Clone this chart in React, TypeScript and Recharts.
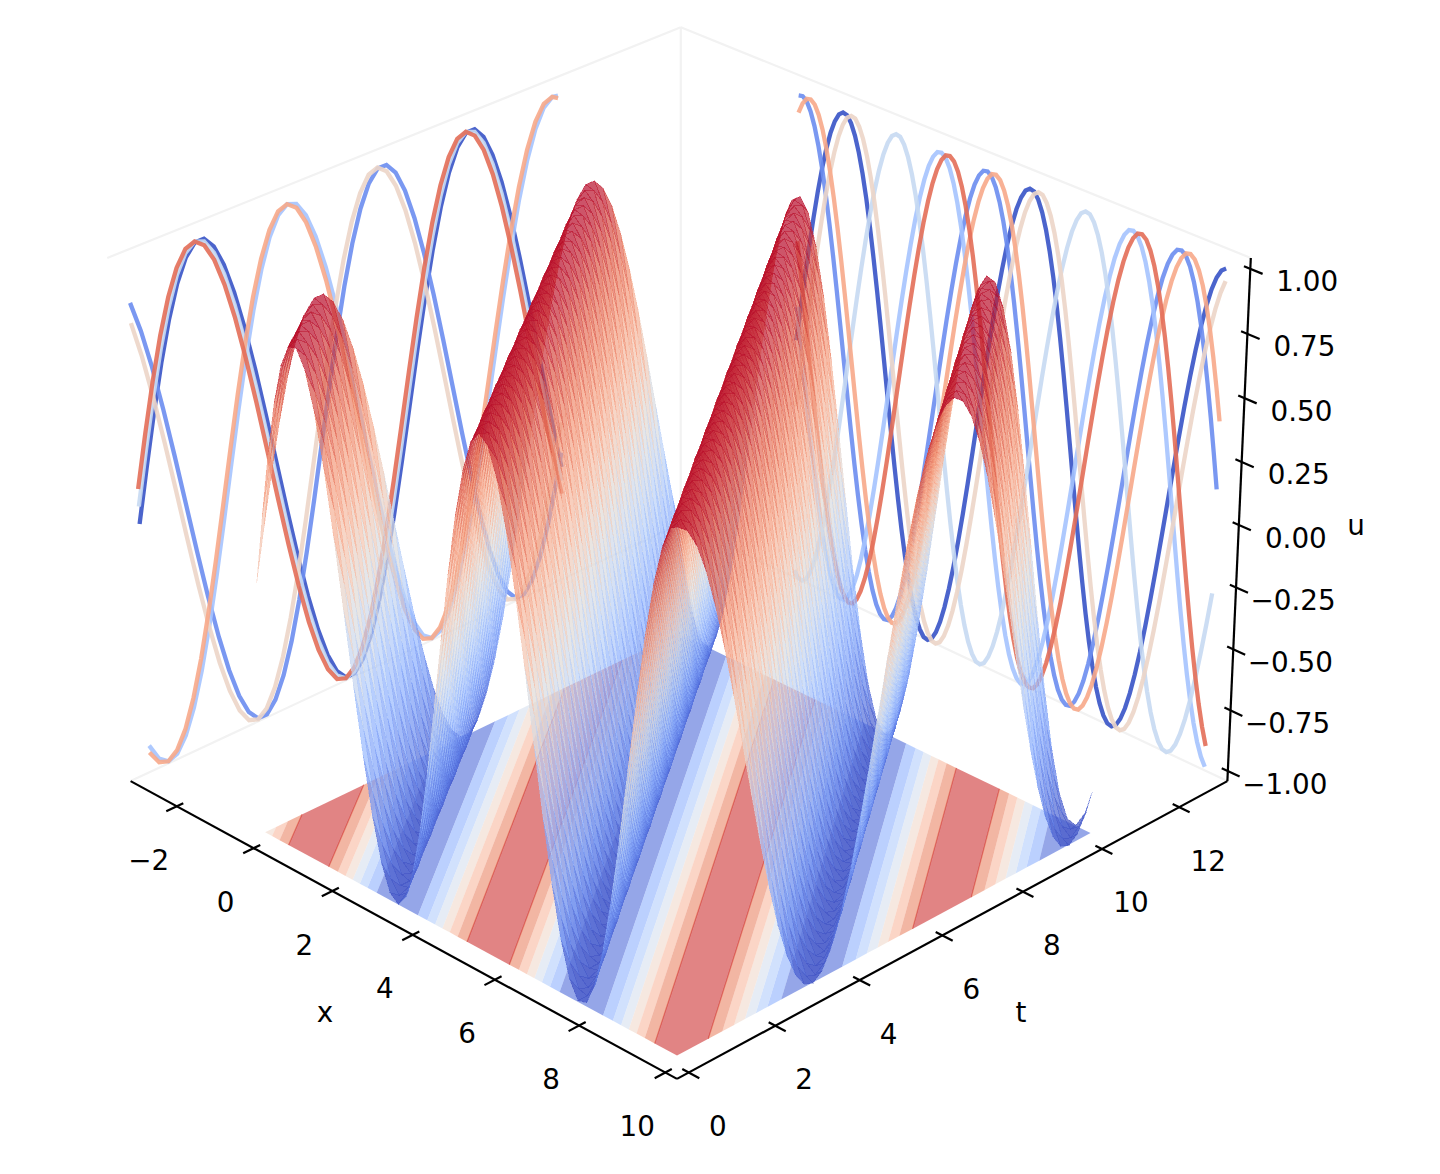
import { ComposedChart, Line, Scatter, XAxis, YAxis } from 'recharts';

const WIDTH = 1440;
const HEIGHT = 1174;

// one period of the wave, one sample every 1/90 period
const WAVE_PROFILE = [
  0, 0.07, 0.139, 0.208, 0.276, 0.342, 0.407, 0.469, 0.53, 0.588, 0.643, 0.695, 0.743, 0.788, 0.829,
  0.866, 0.899, 0.927, 0.951, 0.97, 0.985, 0.995, 0.999, 0.999, 0.995, 0.985, 0.97, 0.951, 0.927, 0.899,
  0.866, 0.829, 0.788, 0.743, 0.695, 0.643, 0.588, 0.53, 0.469, 0.407, 0.342, 0.276, 0.208, 0.139, 0.07,
  0, -0.07, -0.139, -0.208, -0.276, -0.342, -0.407, -0.469, -0.53, -0.588, -0.643, -0.695, -0.743, -0.788, -0.829,
  -0.866, -0.899, -0.927, -0.951, -0.97, -0.985, -0.995, -0.999, -0.999, -0.995, -0.985, -0.97, -0.951, -0.927, -0.899,
  -0.866, -0.829, -0.788, -0.743, -0.695, -0.643, -0.588, -0.53, -0.469, -0.407, -0.342, -0.276, -0.208, -0.139, -0.07,
];
const SAMPLES_PER_X = 20.26;
const SAMPLES_PER_T = 14.32;
// profile samples on the grid lines; the last stride is shorter so the grid stops at 10
const X_SAMPLES = Array.from({ length: 52 }, (_, i) => Math.min(4 * i, 203));
const T_SAMPLES = Array.from({ length: 49 }, (_, j) => Math.min(3 * j, 143));
const X_CURVE_SAMPLES = Array.from({ length: 102 }, (_, i) => 2 * i);

const CURVE_LEVELS = [0, 1.5, 3, 4.5, 6, 7.5, 9];
const CURVE_COLORS = ['#3753c7', '#6b8df0', '#a5c3fe', '#c7d9f2', '#ecd5c8', '#f7a889', '#e36e58'];

const X_TICKS = [-2, 0, 2, 4, 6, 8, 10];
const T_TICKS = [0, 2, 4, 6, 8, 10, 12];
const U_TICKS = [-1, -0.75, -0.5, -0.25, 0, 0.25, 0.5, 0.75, 1];
const U_TICK_LABELS = ['−1.00', '−0.75', '−0.50', '−0.25', '0.00', '0.25', '0.50', '0.75', '1.00'];

// phase limits of the floor bands on the rising side of the wave, then the band fills low to high
const BAND_EDGES = [-0.848, -0.524, -0.253, 0, 0.253, 0.524, 0.848];
const BAND_COLORS = ['#4e6ad8', '#8db0fe', '#b3cdfb', '#d5dfef', '#f0d8cc', '#f9b9a0', '#ea8566', '#cd3232'];

const COOLWARM = [
  [59, 76, 192], [98, 130, 234], [141, 176, 254], [184, 208, 249], [221, 221, 221],
  [245, 196, 173], [244, 154, 123], [222, 96, 77], [180, 4, 38],
];

const XLIM = [-3.22, 10.27];
const TLIM = [-0.27, 13.27];
const ULIM = [-1.0417, 1.0417];
const WALL_X = -3;
const WALL_T = 13;

function project(x: number, t: number, u: number) {
  const px = 0.5953 * ((2 * (x - XLIM[0])) / (XLIM[1] - XLIM[0]) - 1);
  const py = 0.5953 * ((2 * (t - TLIM[0])) / (TLIM[1] - TLIM[0]) - 1);
  const pz = 0.4453 * ((2 * (u - ULIM[0])) / (ULIM[1] - ULIM[0]) - 1);
  const depth = 10 - (0.6243 * (px - py) + 0.4695 * pz);
  return {
    sx: 679 + (6650 * (0.7071 * (px + py) - 0.0024 * (px - py))) / depth,
    sy: 525 - (6650 * (0.332 * (py - px) + 0.8829 * pz)) / depth,
    depth,
  };
}

function coolwarm(f: number) {
  const p = Math.min(Math.max(f, 0), 1) * (COOLWARM.length - 1);
  const i = Math.min(Math.floor(p), COOLWARM.length - 2);
  const c = COOLWARM[i].map((v, k) => Math.round(v + (COOLWARM[i + 1][k] - v) * (p - i)));
  return `rgb(${c.join(',')})`;
}

const waveAt = (sample: number) => WAVE_PROFILE[sample % WAVE_PROFILE.length];

// polygon anchored at its centre, so the chart's scales place it
function toCell(corners: { sx: number; sy: number; depth: number }[], fill: string) {
  const sx = corners.reduce((s, c) => s + c.sx, 0) / corners.length;
  const sy = corners.reduce((s, c) => s + c.sy, 0) / corners.length;
  const depth = corners.reduce((s, c) => s + c.depth, 0) / corners.length;
  return { sx, sy, depth, fill, offsets: corners.map((c) => [c.sx - sx, c.sy - sy]) };
}

const surfaceCells: ReturnType<typeof toCell>[] = [];
for (let j = 0; j < T_SAMPLES.length - 1; j++) {
  for (let i = 0; i < X_SAMPLES.length - 1; i++) {
    const quad = [
      [i, j],
      [i + 1, j],
      [i + 1, j + 1],
      [i, j + 1],
    ].map(([a, b]) => ({
      x: X_SAMPLES[a] / SAMPLES_PER_X,
      t: T_SAMPLES[b] / SAMPLES_PER_T,
      u: waveAt(X_SAMPLES[a] + T_SAMPLES[b]),
    }));
    const mean = quad.reduce((s, q) => s + q.u, 0) / 4;
    surfaceCells.push(toCell(quad.map((q) => project(q.x, q.t, q.u)), coolwarm((mean + 1) / 2)));
  }
}
surfaceCells.sort((p, q) => q.depth - p.depth);

// square cut by one limit of phase = 1.4142 x + t
const phaseOf = (p: number[]) => 1.4142 * p[0] + p[1];
function clip(poly: number[][], phase: number, keepAbove: boolean) {
  const out: number[][] = [];
  const side = (p: number[]) => (phaseOf(p) - phase) * (keepAbove ? 1 : -1);
  poly.forEach((p, i) => {
    const q = poly[(i + 1) % poly.length];
    const sp = side(p);
    const sq = side(q);
    if (sp >= 0) out.push(p);
    if (sp * sq < 0) {
      const f = sp / (sp - sq);
      out.push([p[0] + (q[0] - p[0]) * f, p[1] + (q[1] - p[1]) * f]);
    }
  });
  return out;
}

const SQUARE = [[0, 0], [10, 0], [10, 10], [0, 10]];
const floorCells: ReturnType<typeof toCell>[] = [];
const redBandEdges: ReturnType<typeof project>[][] = [];
const lastEdge = BAND_EDGES[BAND_EDGES.length - 1];
for (let n = 0; n < 5; n++) {
  const centre = n * 6.2832;
  const mirror = centre + 3.1416;
  const bands: [number, number, number][] = [
    [centre - 6.2832 + 3.1416 + lastEdge, centre - lastEdge, 0],
    [centre + lastEdge, mirror - lastEdge, 7],
  ];
  BAND_EDGES.slice(0, -1).forEach((edge, i) => {
    bands.push([centre + edge, centre + BAND_EDGES[i + 1], i + 1]);
    bands.push([mirror - BAND_EDGES[i + 1], mirror - edge, i + 1]);
  });
  bands.forEach(([lo, hi, colour]) => {
    const poly = clip(clip(SQUARE, lo, true), hi, false);
    if (poly.length < 3) return;
    floorCells.push(toCell(poly.map((p) => project(p[0], p[1], -1)), BAND_COLORS[colour]));
    if (colour === 7) {
      [lo, hi].forEach((limit) => {
        const onLimit = poly.filter((p) => Math.abs(phaseOf(p) - limit) < 1e-6);
        if (onLimit.length === 2) redBandEdges.push(onLimit.map((p) => project(p[0], p[1], -1)));
      });
    }
  });
}

const leftCurves = CURVE_LEVELS.map((level) =>
  T_SAMPLES.map((s) => project(WALL_X, s / SAMPLES_PER_T, waveAt(Math.round(level * SAMPLES_PER_X) + s))),
);
const rightCurves = CURVE_LEVELS.map((level) =>
  X_CURVE_SAMPLES.map((s) => project(s / SAMPLES_PER_X, WALL_T, waveAt(s + Math.round(level * SAMPLES_PER_T)))),
);

const paneEdges = [
  [project(XLIM[0], TLIM[0], ULIM[1]), project(XLIM[0], TLIM[1], ULIM[1])],
  [project(XLIM[0], TLIM[1], ULIM[1]), project(XLIM[1], TLIM[1], ULIM[1])],
  [project(XLIM[0], TLIM[1], ULIM[0]), project(XLIM[0], TLIM[1], ULIM[1])],
  [project(XLIM[0], TLIM[0], ULIM[0]), project(XLIM[0], TLIM[1], ULIM[0])],
  [project(XLIM[0], TLIM[1], ULIM[0]), project(XLIM[1], TLIM[1], ULIM[0])],
];
const axisEdges = [
  [project(XLIM[0], TLIM[0], ULIM[0]), project(XLIM[1], TLIM[0], ULIM[0])],
  [project(XLIM[1], TLIM[0], ULIM[0]), project(XLIM[1], TLIM[1], ULIM[0])],
  [project(XLIM[1], TLIM[1], ULIM[0]), project(XLIM[1], TLIM[1], ULIM[1])],
];
const tickEdges = [
  ...X_TICKS.map((x) => [project(x, TLIM[0] - 0.24, ULIM[0]), project(x, TLIM[0] + 0.15, ULIM[0])]),
  ...T_TICKS.map((t) => [project(XLIM[1] + 0.24, t, ULIM[0]), project(XLIM[1] - 0.15, t, ULIM[0])]),
  ...U_TICKS.map((u) => [project(XLIM[1] - 0.14, TLIM[1], u), project(XLIM[1] + 0.27, TLIM[1], u)]),
];

const tickLabels = [
  ...X_TICKS.map((x) => {
    const p = project(x, TLIM[0], ULIM[0]);
    return { sx: p.sx - 28, sy: p.sy + 54, text: x < 0 ? `−${-x}` : `${x}` };
  }),
  ...T_TICKS.map((t) => {
    const p = project(XLIM[1], t, ULIM[0]);
    return { sx: p.sx + 29, sy: p.sy + 54, text: `${t}` };
  }),
  ...U_TICKS.map((u, i) => {
    const p = project(XLIM[1], TLIM[1], u);
    return { sx: p.sx + 57, sy: p.sy + 13, text: U_TICK_LABELS[i] };
  }),
  { sx: 325, sy: 1012, text: 'x' },
  { sx: 1021, sy: 1012, text: 't' },
  { sx: 1356, sy: 525, text: 'u' },
];

function FloorShape({ cx, cy, payload }: any) {
  const points = payload.offsets.map(([dx, dy]: number[]) => `${cx + dx},${cy + dy}`).join(' ');
  return <polygon points={points} fill={payload.fill} fillOpacity={0.6} stroke="none" />;
}

function SurfaceShape({ cx, cy, payload }: any) {
  const points = payload.offsets.map(([dx, dy]: number[]) => `${cx + dx},${cy + dy}`).join(' ');
  return (
    <polygon
      points={points}
      fill={payload.fill}
      fillOpacity={0.7}
      stroke={payload.fill}
      strokeOpacity={0.3}
      strokeWidth={1}
      shapeRendering="crispEdges"
    />
  );
}

function LabelShape({ cx, cy, payload }: any) {
  return (
    <text
      x={cx}
      y={cy}
      textAnchor="middle"
      dominantBaseline="central"
      fontFamily="DejaVu Sans"
      fontSize={27.8}
      fill="#000"
    >
      {payload.text}
    </text>
  );
}

export default function App() {
  const lineProps = { dataKey: 'sy', dot: false, activeDot: false, isAnimationActive: false };
  return (
    <div style={{ position: 'absolute', left: 0, top: 0, width: WIDTH, height: HEIGHT, background: '#fff' }}>
      <ComposedChart width={WIDTH} height={HEIGHT} margin={{ top: 0, right: 0, bottom: 0, left: 0 }}>
        <XAxis type="number" dataKey="sx" domain={[0, WIDTH]} allowDataOverflow hide />
        <YAxis type="number" dataKey="sy" domain={[0, HEIGHT]} reversed allowDataOverflow hide />
        {paneEdges.map((edge, i) => (
          <Line key={`pane${i}`} data={edge} stroke="#f2f2f2" strokeWidth={2.2} {...lineProps} />
        ))}
        {leftCurves.map((curve, i) => (
          <Line key={`left${i}`} data={curve} stroke={CURVE_COLORS[i]} strokeOpacity={0.9} strokeWidth={4.3} {...lineProps} />
        ))}
        {rightCurves.map((curve, i) => (
          <Line key={`right${i}`} data={curve} stroke={CURVE_COLORS[i]} strokeOpacity={0.9} strokeWidth={4.3} {...lineProps} />
        ))}
        <Scatter data={floorCells} isAnimationActive={false} shape={FloorShape} />
        {redBandEdges.map((edge, i) => (
          <Line key={`band${i}`} data={edge} stroke="#e2706a" strokeWidth={1.2} {...lineProps} />
        ))}
        <Scatter data={surfaceCells} isAnimationActive={false} shape={SurfaceShape} />
        {axisEdges.map((edge, i) => (
          <Line key={`axis${i}`} data={edge} stroke="#000" strokeWidth={2.2} {...lineProps} />
        ))}
        {tickEdges.map((edge, i) => (
          <Line key={`tick${i}`} data={edge} stroke="#000" strokeWidth={2.2} {...lineProps} />
        ))}
        <Scatter data={tickLabels} isAnimationActive={false} shape={LabelShape} />
      </ComposedChart>
    </div>
  );
}
